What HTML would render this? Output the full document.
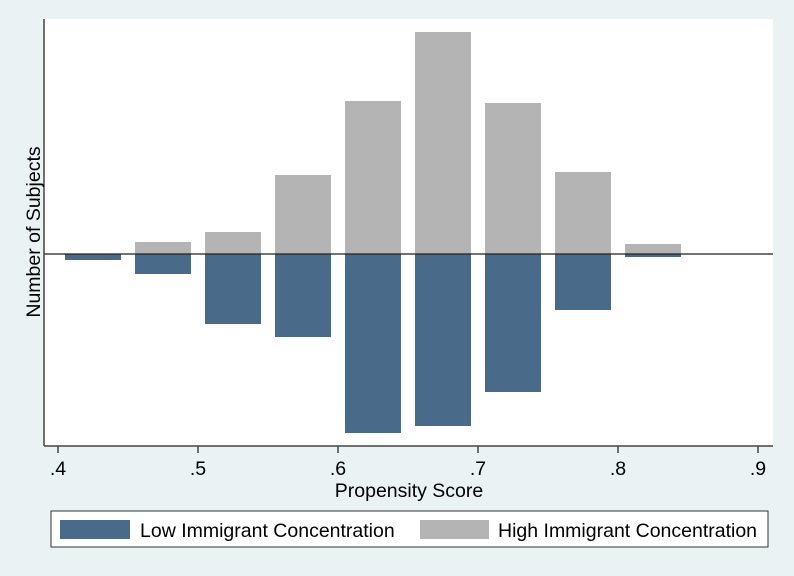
<!DOCTYPE html>
<html><head><meta charset="utf-8"><style>
body{margin:0;background:#eaf2f3;}
svg{display:block;font-family:"Liberation Sans",sans-serif;}
</style></head><body>
<svg width="794" height="576">
<rect x="0" y="0" width="794" height="576" fill="#eaf2f3"/>
<rect x="44" y="19" width="729" height="427" fill="#fff"/>
<g id="bars"></g>
<line x1="44" y1="254" x2="773" y2="254" stroke="#222" stroke-width="1.2"/>
<line x1="44" y1="19" x2="44" y2="446" stroke="#444" stroke-width="1.5"/>
<line x1="44" y1="446" x2="773" y2="446" stroke="#444" stroke-width="1.5"/>
<g id="ticks"></g>
<text x="409" y="497" font-size="19.5" text-anchor="middle">Propensity Score</text>
<text transform="translate(40,232) rotate(-90)" font-size="19.5" text-anchor="middle">Number of Subjects</text>
<g>
<rect x="51" y="511" width="717" height="36" fill="#fff" stroke="#333" stroke-width="1"/>
<rect x="60" y="520" width="70" height="19" fill="#4a6a8a"/>
<text x="140" y="537" font-size="19.5">Low Immigrant Concentration</text>
<rect x="420" y="520" width="69" height="19" fill="#b4b4b4"/>
<text x="498" y="537" font-size="19.5">High Immigrant Concentration</text>
</g>
</svg>
<script>
const binCenters=[0.425,0.475,0.525,0.575,0.625,0.675,0.725,0.775,0.825];
const highCounts=[0,12,22,79,153,222,151,82,10];
const lowCounts=[6,20,70,83,179,172,138,56,3];
const tickValues=[0.4,0.5,0.6,0.7,0.8,0.9];
const tickLabels=[".4",".5",".6",".7",".8",".9"];
const ns="http://www.w3.org/2000/svg";
function xS(v){return 58+(v-0.4)*1400;}
function yS(v){return 254-v*1;}
const g=document.getElementById('bars');
binCenters.forEach((c,i)=>{
  const h=document.createElementNS(ns,'rect');
  h.setAttribute('x',xS(c)-28);h.setAttribute('width',56);
  h.setAttribute('y',yS(highCounts[i]));h.setAttribute('height',yS(0)-yS(highCounts[i]));
  h.setAttribute('fill','#b4b4b4');
  
  
  g.appendChild(h);
  const l=document.createElementNS(ns,'rect');
  l.setAttribute('x',xS(c)-28);l.setAttribute('width',56);
  l.setAttribute('y',yS(0));l.setAttribute('height',yS(0)-yS(lowCounts[i]));
  l.setAttribute('fill','#4a6a8a');
  
  
  g.appendChild(l);
});
const t=document.getElementById('ticks');
tickValues.forEach((v,i)=>{
  const ln=document.createElementNS(ns,'line');
  ln.setAttribute('x1',xS(v));ln.setAttribute('x2',xS(v));ln.setAttribute('y1',446);ln.setAttribute('y2',453);
  ln.setAttribute('stroke','#444');ln.setAttribute('stroke-width','1.5');
  
  
  t.appendChild(ln);
  const tx=document.createElementNS(ns,'text');
  tx.setAttribute('x',xS(v));tx.setAttribute('y',475);tx.setAttribute('font-size','19.5');tx.setAttribute('text-anchor','middle');
  tx.textContent=tickLabels[i];
  
  
  t.appendChild(tx);
});
</script>
</body></html>
